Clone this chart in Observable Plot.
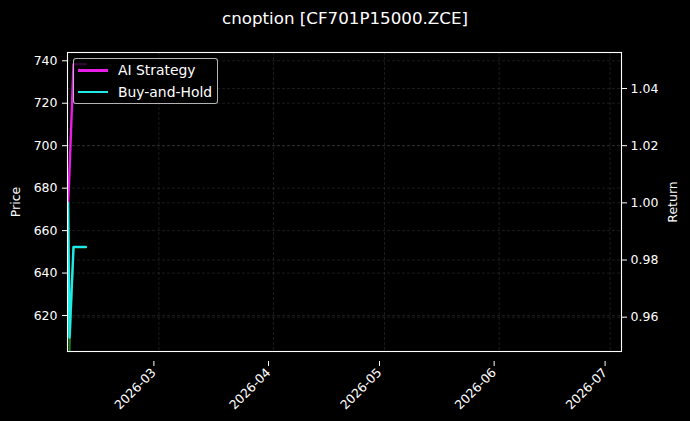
<!DOCTYPE html>
<html><head><meta charset="utf-8">
<script src="https://cdn.jsdelivr.net/npm/d3@7"></script>
<script src="https://cdn.jsdelivr.net/npm/@observablehq/plot@0.6"></script>
<style>
body{margin:0;background:#000;}
#wrap{position:relative;width:690px;height:421px;background:#000;overflow:hidden;font-family:"DejaVu Sans",sans-serif;color:#fff;}
#title{position:absolute;left:0;top:0;width:690px;height:36px;text-align:center;font-size:16.7px;line-height:36px;}
#chart{position:absolute;left:0;top:36px;}
#legend{position:absolute;left:73px;top:58px;width:143px;height:44px;border:1px solid rgba(210,210,210,0.85);border-radius:3px;background:rgba(0,0,0,0.8);}
.row{position:absolute;left:0;height:20px;width:140px;}
.sw{position:absolute;left:4px;width:30px;height:2.6px;top:9px;}
.lb{position:absolute;left:44px;top:0;font-size:13.9px;line-height:20px;white-space:nowrap;}
</style></head><body>
<div id="wrap">
  <div id="title">cnoption [CF701P15000.ZCE]</div>
  <div id="chart"></div>
  <div id="legend"></div>
</div>
<script>
// data
const dates = ["2026-02-04T11:00Z", "2026-02-04T20:00Z", "2026-02-05T22:00Z", "2026-02-09T06:00Z"];
const strategy = [1.000, 1.011, 1.0485, 1.0485];
const buyHold = [1.000, 0.9529, 0.9846, 0.9846];
const price = [673, 602, 652, 652];
const seriesNames = ["AI Strategy", "Buy-and-Hold"];
const seriesColors = ["#e81ee8", "#1eeaea"];
const priceColor = "#1e7d1e";
const priceTicks = [620, 640, 660, 680, 700, 720, 740];
const returnTicks = [0.96, 0.98, 1.00, 1.02, 1.04];
const monthTicks = ["2026-03-01", "2026-04-01", "2026-05-01", "2026-06-01", "2026-07-01"];
const xDomain = ["2026-02-04T07:00Z", "2026-07-04T02:00Z"];
const priceDomain = [603.06, 743.9];
const returnDomain = [0.9480, 1.0526];

const toRet = d3.scaleLinear(priceDomain, returnDomain);
const rows = dates.map((d, i) => ({date: new Date(d), strategy: strategy[i], buyHold: buyHold[i], price: price[i]}));
const mTicks = monthTicks.map(d => new Date(d + "T00:00Z"));
const gridStyle = {stroke: "#b0b0b0", strokeOpacity: 0.22, strokeWidth: 0.7, strokeDasharray: "3,2"};

const chart = Plot.plot({
  width: 690,
  height: 385,
  marginTop: 16,
  marginBottom: 70,
  marginLeft: 67,
  marginRight: 69,
  style: {background: "#000", color: "#fff", fontFamily: "DejaVu Sans, sans-serif", fontSize: "12.5px"},
  x: {type: "utc", domain: xDomain.map(d => new Date(d))},
  y: {domain: returnDomain},
  marks: [
    Plot.gridX(mTicks, gridStyle),
    Plot.gridY(priceTicks.map(toRet), gridStyle),
    Plot.gridY(returnTicks, gridStyle),
    Plot.line(rows, {x: "date", y: d => toRet(d.price), stroke: priceColor, strokeWidth: 1.8, clip: true}),
    Plot.line(rows, {x: "date", y: "strategy", stroke: seriesColors[0], strokeWidth: 2.4, clip: true}),
    Plot.line(rows, {x: "date", y: "buyHold", stroke: seriesColors[1], strokeWidth: 2.4, clip: true}),
    Plot.frame({stroke: "#fff", strokeWidth: 1.1}),
    Plot.axisY(priceTicks.map(toRet), {anchor: "left", tickFormat: d => String(Math.round(toRet.invert(d))), tickSize: 5, tickPadding: 5, label: "Price", labelAnchor: "center", labelArrow: "none", labelOffset: 56}),
    Plot.axisY(returnTicks, {anchor: "right", tickFormat: d3.format(".2f"), tickSize: 5, tickPadding: 4, label: "Return", labelAnchor: "center", labelArrow: "none", labelOffset: 55}),
    Plot.axisX(mTicks, {anchor: "bottom", tickFormat: d3.utcFormat("%Y-%m"), tickRotate: -45, tickSize: 5, tickPadding: 4, dx: -5, dy: 10, label: null})
  ]
});
document.getElementById("chart").appendChild(chart);

const legend = document.getElementById("legend");
seriesNames.forEach((name, i) => {
  const r = document.createElement("div");
  r.className = "row";
  r.style.top = (1 + i * 21.5) + "px";
  const sw = document.createElement("div");
  sw.className = "sw";
  sw.style.background = seriesColors[i];
  const lb = document.createElement("div");
  lb.className = "lb";
  lb.textContent = name;
  r.appendChild(sw); r.appendChild(lb);
  legend.appendChild(r);
});
</script>
</body></html>
